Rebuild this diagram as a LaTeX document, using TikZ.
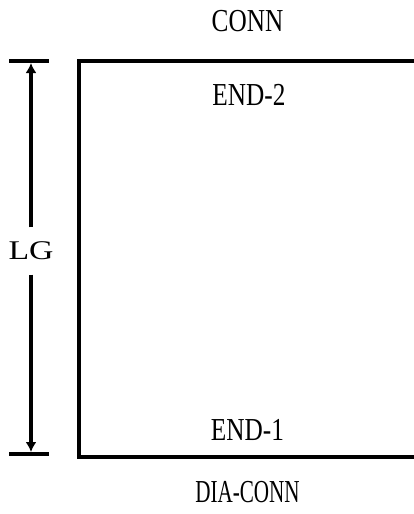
\documentclass[tikz,border=0pt]{standalone}
\usepackage{fontspec}
\setmainfont{Liberation Serif}
\newfontfamily\widefont[FakeStretch=1.25]{Liberation Serif}
\newfontfamily\narrowfont[FakeStretch=0.79]{Liberation Serif}
\newfontfamily\narrowerfont[FakeStretch=0.66]{Liberation Serif}
\usetikzlibrary{positioning,arrows.meta}
\tikzset{
  lbl/.style={inner sep=0pt, font=\narrowfont\fontsize{32}{36}\selectfont},
  dim/.style={line width=3.5pt, -{Latex[length=10pt,width=11pt]}},
  tick/.style={line width=4pt}
}
\begin{document}
\begin{tikzpicture}[x=1pt,y=-1pt]
      \useasboundingbox (0,0) rectangle (414,514);

      % frame, open on the right
      \draw[line width=3.5pt] (414,61) -- (79,61) -- (79,457) -- (414,457);

      % labels
      \node[lbl] (conn) at (247.5,21) {CONN};
      \node[lbl] (end2) at (249,95) {END-2};
      \node[lbl] (end1) at (247.5,430) {END-1};
      \node[lbl, font=\narrowerfont\fontsize{32}{36}\selectfont] (dia) at (247.5,492.5) {DIA-CONN};

      % length dimension
      \draw[tick] (9,61) coordinate (t0) -- (49,61) coordinate (t1);
      \draw[tick] (9,454) coordinate (b0) -- (49,454) coordinate (b1);
      \coordinate (ttip) at (31,63);
      \coordinate (btip) at (31,452);
      \node[inner sep=0pt, font=\widefont\fontsize{27}{30}\selectfont, minimum height=47pt] (lg) at (31,251) {LG};
      \draw[dim] (lg.north) -- (ttip);
      \draw[dim] (lg.south) -- (btip);
\end{tikzpicture}
\end{document}
